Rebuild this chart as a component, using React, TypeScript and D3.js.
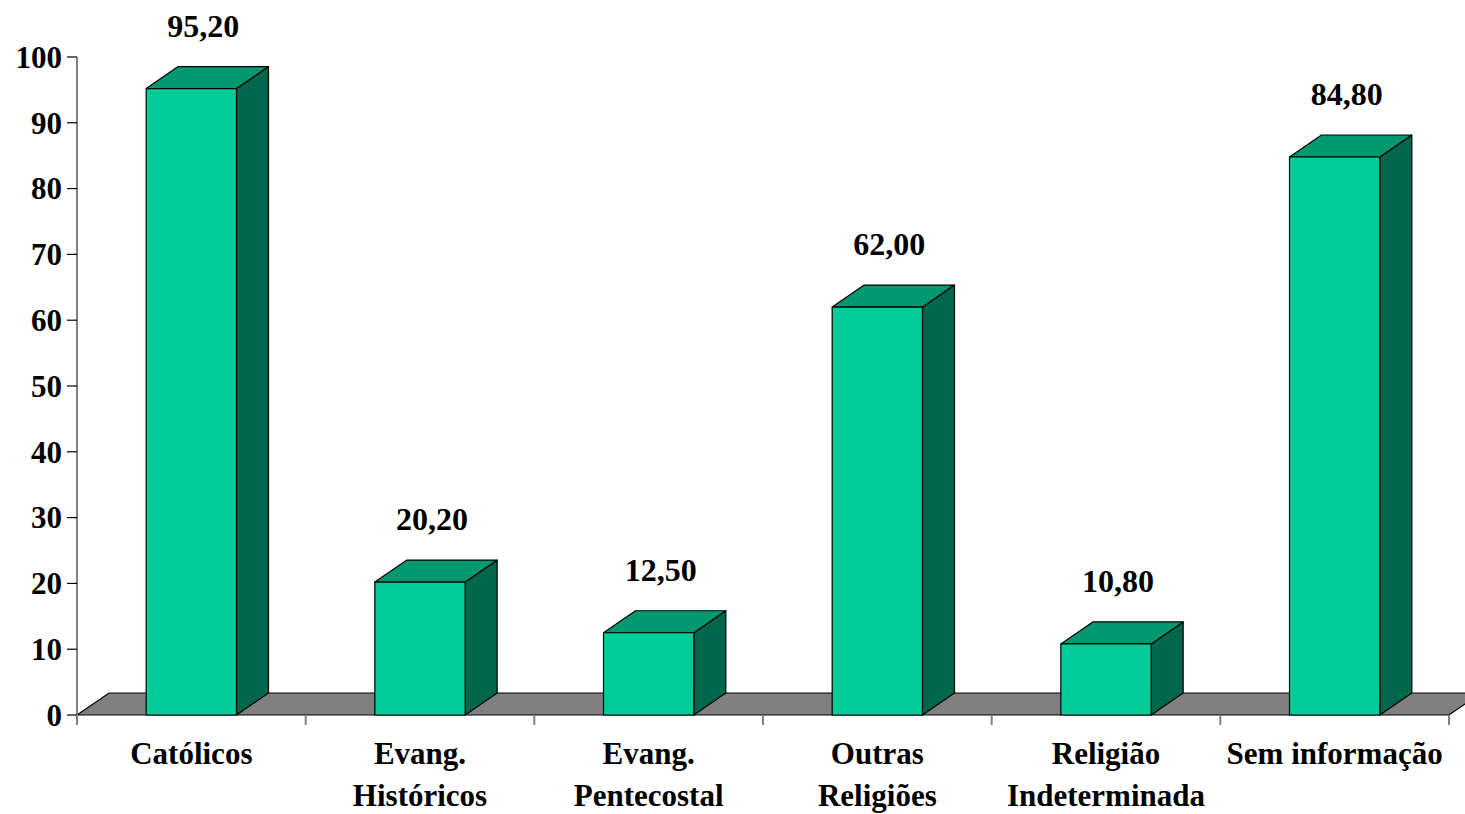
import React from "react";
import * as d3 from "d3";

const categories: string[][] = [
  ["Católicos"],
  ["Evang.", "Históricos"],
  ["Evang.", "Pentecostal"],
  ["Outras", "Religiões"],
  ["Religião", "Indeterminada"],
  ["Sem informação"],
];
const values: number[] = [95.2, 20.2, 12.5, 62.0, 10.8, 84.8];
const yTicks: number[] = [0, 10, 20, 30, 40, 50, 60, 70, 80, 90, 100];

const W = 1465;
const H = 814;
const X0 = 77;
const X1 = 1449;
const Y0 = 715;
const Y100 = 57;
const DX = 32;
const DY = -22;

const FRONT = "#00CC99";
const TOP = "#00996F";
const SIDE = "#00664C";
const FLOOR = "#808080";
const FONT = "'Liberation Serif', 'Times New Roman', serif";

export default function App() {
  const idx = categories.map((_, i) => String(i));
  const x = d3.scaleBand<string>().domain(idx).range([X0, X1]).paddingInner(0.605).paddingOuter(0.3025);
  const y = d3.scaleLinear().domain([0, 100]).range([Y0, Y100]);
  const bw = x.bandwidth();
  const step = x.step();

  const floorPts = [
    [X0, Y0],
    [X0 + DX, Y0 + DY],
    [X1 + DX, Y0 + DY],
    [X1, Y0],
  ];

  return (
    <svg width={W} height={H} style={{ position: "absolute", left: 0, top: 0, background: "#fff" }}>
      {/* floor */}
      <polygon points={floorPts.map((p) => p.join(",")).join(" ")} fill={FLOOR} stroke="#000" strokeWidth={1.2} />
      {/* y axis */}
      <line x1={X0} x2={X0} y1={Y100} y2={Y0 + 10} stroke="#808080" strokeWidth={2} />
      {yTicks.map((t) => (
        <g key={t}>
          <line x1={X0 - 10} x2={X0} y1={y(t)} y2={y(t)} stroke="#000" strokeWidth={1.2} />
          <text
            x={X0 - 15}
            y={y(t)}
            dy="0.35em"
            textAnchor="end"
            fontFamily={FONT}
            fontWeight="bold"
            fontSize={31}
            fill="#000"
          >
            {t}
          </text>
        </g>
      ))}
      {/* x axis ticks */}
      {d3.range(categories.length + 1).map((i) => {
        const tx = X0 + i * step;
        return <line key={i} x1={tx} x2={tx} y1={Y0} y2={Y0 + 10} stroke="#808080" strokeWidth={2} />;
      })}
      {/* bars */}
      {values.map((v, i) => {
        const xl = x(String(i))!;
        const xr = xl + bw;
        const yt = y(v);
        const front = `${xl},${yt} ${xr},${yt} ${xr},${Y0} ${xl},${Y0}`;
        const top = `${xl},${yt} ${xl + DX},${yt + DY} ${xr + DX},${yt + DY} ${xr},${yt}`;
        const side = `${xr},${yt} ${xr + DX},${yt + DY} ${xr + DX},${Y0 + DY} ${xr},${Y0}`;
        return (
          <g key={i}>
            <polygon points={side} fill={SIDE} stroke="#000" strokeWidth={1.2} strokeLinejoin="round" />
            <polygon points={top} fill={TOP} stroke="#000" strokeWidth={1.2} strokeLinejoin="round" />
            <polygon points={front} fill={FRONT} stroke="#000" strokeWidth={1.2} strokeLinejoin="round" />
            <text
              x={xl + bw / 2 + DX / 2 - 4}
              y={yt + DY - 30}
              textAnchor="middle"
              fontFamily={FONT}
              fontWeight="bold"
              fontSize={32}
              fill="#000"
            >
              {v.toFixed(2).replace(".", ",")}
            </text>
          </g>
        );
      })}
      {/* category labels */}
      {categories.map((lines, i) => {
        const cx = X0 + (i + 0.5) * step;
        return (
          <text key={i} textAnchor="middle" fontFamily={FONT} fontWeight="bold" fontSize={31} fill="#000">
            {lines.map((l, j) => (
              <tspan key={j} x={cx} y={764 + j * 42}>
                {l}
              </tspan>
            ))}
          </text>
        );
      })}
    </svg>
  );
}
